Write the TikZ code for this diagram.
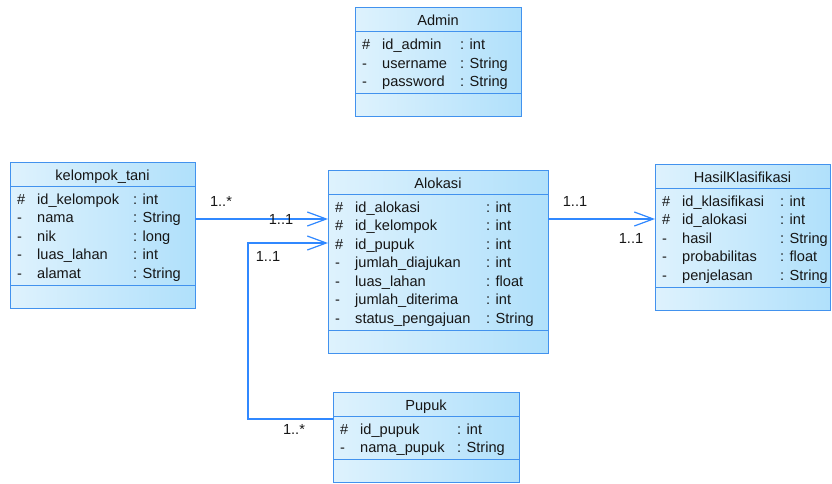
\documentclass[tikz,border=0pt]{standalone}
\usepackage{fontspec}
\setmainfont{Liberation Sans}
\usetikzlibrary{arrows.meta}
\definecolor{classborder}{RGB}{66,146,238}
\definecolor{assocblue}{RGB}{48,136,255}
\definecolor{fillleft}{RGB}{222,242,253}
\definecolor{fillright}{RGB}{176,224,251}
\definecolor{inkgray}{RGB}{22,22,22}
\tikzset{% styles for the class boxes and links
  classbox/.style={draw=classborder, line width=1pt, left color=fillleft, right color=fillright, anchor=north west, inner sep=0pt, outer sep=0pt},
  sepline/.style={draw=classborder, line width=1pt},
  uml/.style={inner sep=0pt, text=inkgray, font=\fontsize{14.6}{17}\selectfont},
  attr/.style={uml, anchor=base west},
  cname/.style={uml, anchor=base},
  mult/.style={uml},
  assoc/.style={draw=assocblue, line width=1.2pt, -{Straight Barb[length=19pt, width=14pt]}}
}

\begin{document}
\begin{tikzpicture}[x=1pt, y=-1pt]
\useasboundingbox (0,0) rectangle (832,484);

% class Admin
\begin{scope}[shift={(355,8)}]
\node [classbox, minimum width=166pt, minimum height=109pt] (admin) at (0,0) {};
\draw [sepline] (0,24) -- (166,24);
\draw [sepline] (0,86) -- (166,86);
\node [cname] (admin-name) at (83,18) {Admin};
\foreach \s/\n/\t [count=\i] in {\#/id\_admin/int, -/username/String, -/password/String} {
  \node [attr] (admin-v\i) at (7,{42+18.5*(\i-1)}) {\s};
  \node [attr] (admin-n\i) at (27,{42+18.5*(\i-1)}) {\n};
  \node [attr] (admin-t\i) at (105,{42+18.5*(\i-1)}) {: \t};
}
\end{scope}

% class kelompok_tani
\begin{scope}[shift={(10,162)}]
\node [classbox, minimum width=185pt, minimum height=146pt] (ktani) at (0,0) {};
\draw [sepline] (0,24) -- (185,24);
\draw [sepline] (0,123) -- (185,123);
\node [cname] (ktani-name) at (92.5,18) {kelompok\_tani};
\foreach \s/\n/\t [count=\i] in {\#/id\_kelompok/int, -/nama/String, -/nik/long, -/luas\_lahan/int, -/alamat/String} {
  \node [attr] (ktani-v\i) at (7,{42+18.5*(\i-1)}) {\s};
  \node [attr] (ktani-n\i) at (27,{42+18.5*(\i-1)}) {\n};
  \node [attr] (ktani-t\i) at (123,{42+18.5*(\i-1)}) {: \t};
}
\end{scope}

% class Alokasi
\begin{scope}[shift={(328,170)}]
\node [classbox, minimum width=220pt, minimum height=183pt] (alokasi) at (0,0) {};
\draw [sepline] (0,24) -- (220,24);
\draw [sepline] (0,160) -- (220,160);
\node [cname] (alokasi-name) at (110,18) {Alokasi};
\foreach \s/\n/\t [count=\i] in {\#/id\_alokasi/int, \#/id\_kelompok/int, \#/id\_pupuk/int, -/jumlah\_diajukan/int, -/luas\_lahan/float, -/jumlah\_diterima/int, -/status\_pengajuan/String} {
  \node [attr] (alokasi-v\i) at (7,{42+18.5*(\i-1)}) {\s};
  \node [attr] (alokasi-n\i) at (27,{42+18.5*(\i-1)}) {\n};
  \node [attr] (alokasi-t\i) at (158,{42+18.5*(\i-1)}) {: \t};
}
\end{scope}

% class HasilKlasifikasi
\begin{scope}[shift={(655,164)}]
\node [classbox, minimum width=175pt, minimum height=146pt] (hasil) at (0,0) {};
\draw [sepline] (0,24) -- (175,24);
\draw [sepline] (0,123) -- (175,123);
\node [cname] (hasil-name) at (87.5,18) {HasilKlasifikasi};
\foreach \s/\n/\t [count=\i] in {\#/id\_klasifikasi/int, \#/id\_alokasi/int, -/hasil/String, -/probabilitas/float, -/penjelasan/String} {
  \node [attr] (hasil-v\i) at (7,{42+18.5*(\i-1)}) {\s};
  \node [attr] (hasil-n\i) at (27,{42+18.5*(\i-1)}) {\n};
  \node [attr] (hasil-t\i) at (125,{42+18.5*(\i-1)}) {: \t};
}
\end{scope}

% class Pupuk
\begin{scope}[shift={(333,392)}]
\node [classbox, minimum width=186pt, minimum height=90.5pt] (pupuk) at (0,0) {};
\draw [sepline] (0,24) -- (186,24);
\draw [sepline] (0,67.5) -- (186,67.5);
\node [cname] (pupuk-name) at (93,18) {Pupuk};
\foreach \s/\n/\t [count=\i] in {\#/id\_pupuk/int, -/nama\_pupuk/String} {
  \node [attr] (pupuk-v\i) at (7,{42+18.5*(\i-1)}) {\s};
  \node [attr] (pupuk-n\i) at (27,{42+18.5*(\i-1)}) {\n};
  \node [attr] (pupuk-t\i) at (124,{42+18.5*(\i-1)}) {: \t};
}
\end{scope}

% associations
\coordinate (kt-out) at ([yshift=-57pt]ktani.north east);
\coordinate (pu-out) at ([yshift=-27pt]pupuk.north west);
\coordinate (pu-bend) at (248,243);
\coordinate (al-out) at ([yshift=-49pt]alokasi.north east);
\draw [assoc] (kt-out) -- (kt-out -| alokasi.west);
\draw [assoc] (pu-out) -| (pu-bend) -- (pu-bend -| alokasi.west);
\draw [assoc] (al-out) -- (al-out -| hasil.west);

% multiplicities
\node [mult] (m-kt) at (221,201) {1..*};
\node [mult] (m-al1) at (281,219) {1..1};
\node [mult] (m-al2) at (268,256) {1..1};
\node [mult] (m-pu) at (294,429) {1..*};
\node [mult] (m-al3) at (575,201) {1..1};
\node [mult] (m-hk) at (631,238) {1..1};

\end{tikzpicture}
\end{document}
